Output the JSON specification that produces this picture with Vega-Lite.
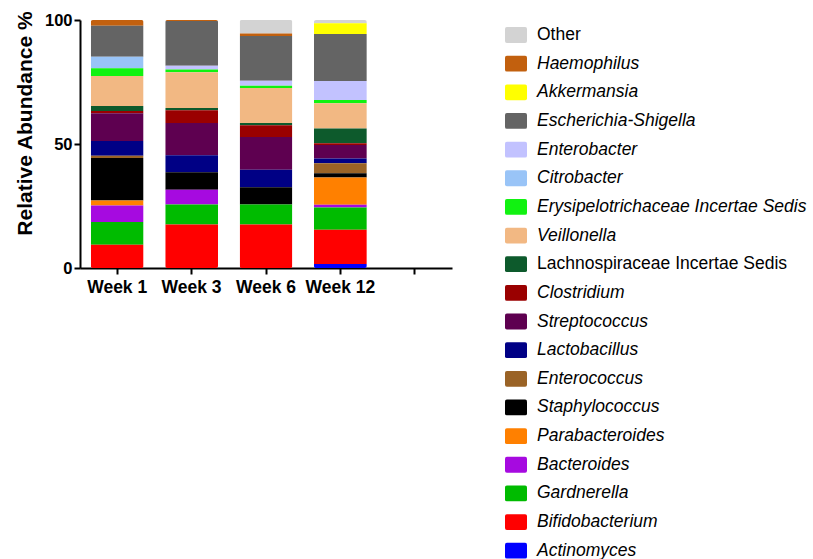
{
  "$schema": "https://vega.github.io/schema/vega-lite/v6.json",
  "width": 372,
  "height": 248,
  "autosize": {"type": "none"},
  "padding": {"left": 80, "top": 20, "right": 361, "bottom": 291},
  "background": "white",
  "config": {"view": {"stroke": null}, "font": "Liberation Sans"},
  "data": {"values": [
    {"week": "Week 1", "taxon": "Haemophilus", "pct": 2.3},
    {"week": "Week 1", "taxon": "Escherichia-Shigella", "pct": 12.5},
    {"week": "Week 1", "taxon": "Citrobacter", "pct": 4.7},
    {"week": "Week 1", "taxon": "Erysipelotrichaceae Incertae Sedis", "pct": 3.1},
    {"week": "Week 1", "taxon": "Veillonella", "pct": 12.1},
    {"week": "Week 1", "taxon": "Lachnospiraceae Incertae Sedis", "pct": 2.0},
    {"week": "Week 1", "taxon": "Clostridium", "pct": 0.9},
    {"week": "Week 1", "taxon": "Streptococcus", "pct": 11.2},
    {"week": "Week 1", "taxon": "Lactobacillus", "pct": 5.9},
    {"week": "Week 1", "taxon": "Enterococcus", "pct": 0.9},
    {"week": "Week 1", "taxon": "Staphylococcus", "pct": 17.2},
    {"week": "Week 1", "taxon": "Parabacteroides", "pct": 2.0},
    {"week": "Week 1", "taxon": "Bacteroides", "pct": 6.7},
    {"week": "Week 1", "taxon": "Gardnerella", "pct": 9.1},
    {"week": "Week 1", "taxon": "Bifidobacterium", "pct": 9.4},

    {"week": "Week 3", "taxon": "Haemophilus", "pct": 0.4},
    {"week": "Week 3", "taxon": "Escherichia-Shigella", "pct": 18.0},
    {"week": "Week 3", "taxon": "Enterobacter", "pct": 1.6},
    {"week": "Week 3", "taxon": "Erysipelotrichaceae Incertae Sedis", "pct": 1.1},
    {"week": "Week 3", "taxon": "Veillonella", "pct": 14.4},
    {"week": "Week 3", "taxon": "Lachnospiraceae Incertae Sedis", "pct": 0.9},
    {"week": "Week 3", "taxon": "Clostridium", "pct": 5.1},
    {"week": "Week 3", "taxon": "Streptococcus", "pct": 13.0},
    {"week": "Week 3", "taxon": "Lactobacillus", "pct": 6.9},
    {"week": "Week 3", "taxon": "Staphylococcus", "pct": 7.0},
    {"week": "Week 3", "taxon": "Bacteroides", "pct": 6.0},
    {"week": "Week 3", "taxon": "Gardnerella", "pct": 8.1},
    {"week": "Week 3", "taxon": "Bifidobacterium", "pct": 17.5},

    {"week": "Week 6", "taxon": "Other", "pct": 5.4},
    {"week": "Week 6", "taxon": "Haemophilus", "pct": 1.1},
    {"week": "Week 6", "taxon": "Escherichia-Shigella", "pct": 18.0},
    {"week": "Week 6", "taxon": "Enterobacter", "pct": 2.0},
    {"week": "Week 6", "taxon": "Erysipelotrichaceae Incertae Sedis", "pct": 0.9},
    {"week": "Week 6", "taxon": "Veillonella", "pct": 14.1},
    {"week": "Week 6", "taxon": "Lachnospiraceae Incertae Sedis", "pct": 0.9},
    {"week": "Week 6", "taxon": "Clostridium", "pct": 4.8},
    {"week": "Week 6", "taxon": "Streptococcus", "pct": 13.2},
    {"week": "Week 6", "taxon": "Lactobacillus", "pct": 7.0},
    {"week": "Week 6", "taxon": "Staphylococcus", "pct": 7.0},
    {"week": "Week 6", "taxon": "Gardnerella", "pct": 8.1},
    {"week": "Week 6", "taxon": "Bifidobacterium", "pct": 17.5},

    {"week": "Week 12", "taxon": "Other", "pct": 1.3},
    {"week": "Week 12", "taxon": "Akkermansia", "pct": 4.3},
    {"week": "Week 12", "taxon": "Escherichia-Shigella", "pct": 19.0},
    {"week": "Week 12", "taxon": "Enterobacter", "pct": 7.7},
    {"week": "Week 12", "taxon": "Erysipelotrichaceae Incertae Sedis", "pct": 1.3},
    {"week": "Week 12", "taxon": "Veillonella", "pct": 10.1},
    {"week": "Week 12", "taxon": "Lachnospiraceae Incertae Sedis", "pct": 6.0},
    {"week": "Week 12", "taxon": "Clostridium", "pct": 0.7},
    {"week": "Week 12", "taxon": "Streptococcus", "pct": 5.4},
    {"week": "Week 12", "taxon": "Lactobacillus", "pct": 2.0},
    {"week": "Week 12", "taxon": "Enterococcus", "pct": 4.0},
    {"week": "Week 12", "taxon": "Staphylococcus", "pct": 1.7},
    {"week": "Week 12", "taxon": "Parabacteroides", "pct": 11.0},
    {"week": "Week 12", "taxon": "Bacteroides", "pct": 1.1},
    {"week": "Week 12", "taxon": "Gardnerella", "pct": 9.0},
    {"week": "Week 12", "taxon": "Bifidobacterium", "pct": 13.8},
    {"week": "Week 12", "taxon": "Actinomyces", "pct": 1.6}
  ]},
  "transform": [
    {"calculate": "indexof(['Other','Haemophilus','Akkermansia','Escherichia-Shigella','Enterobacter','Citrobacter','Erysipelotrichaceae Incertae Sedis','Veillonella','Lachnospiraceae Incertae Sedis','Clostridium','Streptococcus','Lactobacillus','Enterococcus','Staphylococcus','Parabacteroides','Bacteroides','Gardnerella','Bifidobacterium','Actinomyces'], datum.taxon)", "as": "rank"}
  ],
  "mark": {"type": "bar", "cornerRadius": 2},
  "encoding": {
    "x": {
      "field": "week", "type": "nominal",
      "scale": {"domain": ["Week 1", "Week 3", "Week 6", "Week 12", " "], "paddingInner": 0.29, "paddingOuter": 0.145},
      "axis": {
        "title": null, "labelAngle": 0, "labelFontSize": 17.5, "labelFontWeight": "bold",
        "labelColor": "black", "labelPadding": 4, "tickSize": 6, "tickWidth": 2, "tickColor": "black",
        "domainColor": "black", "domainWidth": 2
      }
    },
    "y": {
      "field": "pct", "type": "quantitative", "stack": "zero",
      "scale": {"domain": [0, 100], "nice": false},
      "axis": {
        "title": "Relative Abundance %", "titleFontSize": 21, "titleFontWeight": "bold", "titleColor": "black",
        "titleX": -45, "titleY": 103, "values": [0, 50, 100], "grid": false,
        "labelFontSize": 16.5, "labelFontWeight": "bold", "labelColor": "black", "labelPadding": 2,
        "tickSize": 6, "tickWidth": 2, "tickColor": "black", "domainColor": "black", "domainWidth": 2
      }
    },
    "order": {"field": "rank", "type": "quantitative", "sort": "descending"},
    "color": {
      "field": "taxon", "type": "nominal",
      "scale": {
        "domain": ["Other","Haemophilus","Akkermansia","Escherichia-Shigella","Enterobacter","Citrobacter","Erysipelotrichaceae Incertae Sedis","Veillonella","Lachnospiraceae Incertae Sedis","Clostridium","Streptococcus","Lactobacillus","Enterococcus","Staphylococcus","Parabacteroides","Bacteroides","Gardnerella","Bifidobacterium","Actinomyces"],
        "range": ["#d3d3d3","#c2600e","#ffff00","#646464","#c2c2ff","#99c4f7","#11f211","#f2b883","#0d5a2c","#9a0000","#5e0050","#000085","#9a6326","#000000","#ff8000","#a60ae0","#00bb00","#ff0000","#0000ff"]
      },
      "legend": {
        "title": null, "orient": "none", "legendX": 425, "legendY": 4,
        "symbolType": "M-1,-0.55 Q-1,-0.72 -0.83,-0.72 L0.83,-0.72 Q1,-0.72 1,-0.55 L1,0.55 Q1,0.72 0.83,0.72 L-0.83,0.72 Q-1,0.72 -1,0.55 Z",
        "symbolSize": 484, "symbolStrokeWidth": 0, "symbolOpacity": 1,
        "labelFontSize": 17.5, "labelColor": "black", "labelOffset": 10, "labelLimit": 400,
        "rowPadding": 8.65, "padding": 0,
        "encode": {"labels": {"update": {"fontStyle": {"signal": "datum.value === 'Other' || datum.value === 'Lachnospiraceae Incertae Sedis' ? 'normal' : 'italic'"}}}}
      }
    }
  }
}
